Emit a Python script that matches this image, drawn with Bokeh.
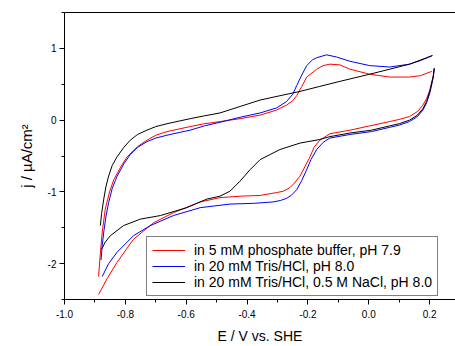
from bokeh.plotting import figure
from bokeh.models import (Range1d, LinearAxis, SingleIntervalTicker, FixedTicker,
                          NumeralTickFormatter, Legend, LegendItem)
from bokeh.embed import file_html
from bokeh.resources import INLINE

# ---- data ----
red_fwd_E = [-0.888, -0.882, -0.876, -0.866, -0.852, -0.838, -0.815, -0.794, -0.760, -0.729, -0.700, -0.663,
             -0.620, -0.587, -0.540, -0.489, -0.423, -0.357, -0.303, -0.270, -0.250, -0.237, -0.220, -0.204,
             -0.171, -0.150, -0.128, -0.095, -0.062, 0.003, 0.069, 0.134, 0.170, 0.207]
red_fwd_j = [-2.18, -1.85, -1.56, -1.24, -1.00, -0.83, -0.65, -0.51, -0.37, -0.28, -0.21, -0.16,
             -0.12, -0.09, -0.05, -0.02, 0.02, 0.07, 0.14, 0.21, 0.27, 0.34, 0.47, 0.60,
             0.71, 0.76, 0.78, 0.77, 0.71, 0.64, 0.60, 0.60, 0.62, 0.68]
red_rev_E = [0.215, 0.212, 0.205, 0.200, 0.190, 0.178, 0.160, 0.134, 0.100, 0.069, 0.003, -0.062,
             -0.128, -0.161, -0.180, -0.193, -0.210, -0.226, -0.245, -0.259, -0.280, -0.303, -0.357,
             -0.423, -0.489, -0.554, -0.642, -0.707, -0.773, -0.827, -0.860, -0.888]
red_rev_j = [0.72, 0.62, 0.50, 0.41, 0.30, 0.21, 0.12, 0.05, 0.01, -0.02, -0.08, -0.14,
             -0.19, -0.28, -0.38, -0.51, -0.65, -0.78, -0.88, -0.94, -0.99, -1.01, -1.05,
             -1.06, -1.08, -1.14, -1.29, -1.43, -1.66, -1.98, -2.21, -2.43]

blue_fwd_E = [-0.880, -0.876, -0.871, -0.864, -0.855, -0.843, -0.827, -0.805, -0.784, -0.760, -0.729, -0.700,
              -0.663, -0.620, -0.587, -0.540, -0.489, -0.423, -0.357, -0.303, -0.270, -0.250, -0.237, -0.220,
              -0.204, -0.185, -0.171, -0.139, -0.106, -0.062, 0.003, 0.069, 0.134, 0.170, 0.209]
blue_fwd_j = [-1.95, -1.75, -1.56, -1.35, -1.15, -0.95, -0.78, -0.61, -0.48, -0.38, -0.30, -0.25,
              -0.21, -0.17, -0.14, -0.08, -0.03, 0.04, 0.10, 0.17, 0.26, 0.36, 0.48, 0.63,
              0.76, 0.84, 0.87, 0.91, 0.88, 0.82, 0.76, 0.74, 0.78, 0.83, 0.90]
blue_rev_E = [0.215, 0.212, 0.205, 0.200, 0.190, 0.178, 0.160, 0.134, 0.100, 0.069, 0.009, -0.062,
              -0.128, -0.150, -0.171, -0.190, -0.204, -0.220, -0.237, -0.255, -0.270, -0.290, -0.314,
              -0.379, -0.456, -0.554, -0.642, -0.718, -0.773, -0.827, -0.855, -0.876]
blue_rev_j = [0.72, 0.60, 0.46, 0.37, 0.24, 0.14, 0.05, -0.02, -0.07, -0.10, -0.16, -0.20,
              -0.25, -0.31, -0.41, -0.55, -0.69, -0.84, -0.97, -1.05, -1.09, -1.12, -1.14,
              -1.16, -1.17, -1.22, -1.33, -1.47, -1.61, -1.84, -2.00, -2.18]

black_fwd_E = [-0.882, -0.878, -0.871, -0.864, -0.855, -0.843, -0.827, -0.805, -0.784, -0.760, -0.729, -0.700,
               -0.663, -0.620, -0.587, -0.540, -0.489, -0.423, -0.357, -0.292, -0.226, -0.161, -0.095,
               0.003, 0.069, 0.134, 0.209]
black_fwd_j = [-1.47, -1.30, -1.10, -0.93, -0.78, -0.63, -0.51, -0.38, -0.28, -0.20, -0.14, -0.09,
               -0.05, -0.01, 0.02, 0.06, 0.10, 0.19, 0.28, 0.34, 0.40, 0.47, 0.54,
               0.64, 0.71, 0.78, 0.90]
black_rev_E = [0.215, 0.212, 0.205, 0.200, 0.190, 0.178, 0.160, 0.134, 0.100, 0.069, 0.009, -0.062,
               -0.128, -0.161, -0.226, -0.292, -0.357, -0.390, -0.423, -0.456, -0.489, -0.532, -0.598,
               -0.685, -0.751, -0.806, -0.849, -0.866, -0.878]
black_rev_j = [0.72, 0.61, 0.48, 0.39, 0.26, 0.16, 0.07, 0.00, -0.05, -0.08, -0.14, -0.18,
               -0.23, -0.27, -0.32, -0.41, -0.55, -0.69, -0.85, -0.99, -1.06, -1.10, -1.22,
               -1.33, -1.38, -1.47, -1.61, -1.70, -1.80]

series_labels = ["in 5 mM phosphate buffer, pH 7.9",
                 "in 20 mM Tris/HCl, pH 8.0",
                 "in 20 mM Tris/HCl, 0.5 M NaCl, pH 8.0"]
series_colors = ["#ff0000", "#0000ff", "#000000"]

x_label = "E / V vs. SHE"
y_label = "j / \u00b5A/cm\u00b2"

FONT = "Liberation Sans"

p = figure(width=455, height=346, output_backend="svg", toolbar_location=None,
           x_range=Range1d(-1.0, 0.285), y_range=Range1d(-2.5, 1.5),
           min_border_left=64, min_border_right=0, min_border_top=12, min_border_bottom=45,
           x_axis_label=x_label, y_axis_label=y_label)
p.grid.visible = False
p.outline_line_color = None
p.background_fill_color = "white"
p.border_fill_color = "white"

p.xaxis.ticker = SingleIntervalTicker(interval=0.2, num_minor_ticks=2)
p.yaxis.ticker = SingleIntervalTicker(interval=1, num_minor_ticks=2)
p.xaxis.formatter = NumeralTickFormatter(format="0.0")
p.yaxis.formatter = NumeralTickFormatter(format="0")

for ax in (p.xaxis[0], p.yaxis[0]):
    ax.axis_line_color = "black"
    ax.axis_line_width = 1
    ax.major_tick_line_color = "black"
    ax.minor_tick_line_color = "black"
    ax.major_tick_out = 5
    ax.major_tick_in = 0
    ax.minor_tick_out = 3
    ax.minor_tick_in = 0
    ax.major_label_text_font = FONT
    ax.major_label_text_font_size = "10px"
    ax.major_label_text_color = "black"
    ax.axis_label_text_font = FONT
    ax.axis_label_text_font_size = "14px"
    ax.axis_label_text_font_style = "normal"
    ax.axis_label_text_color = "black"
p.xaxis.major_label_standoff = 5
p.xaxis.axis_label_standoff = 7
p.yaxis.major_label_standoff = 3
p.yaxis.axis_label_standoff = 10
p.yaxis.axis_label_text_font_size = "15px"

top = LinearAxis(ticker=FixedTicker(ticks=[]), axis_line_color="black", axis_line_width=1,
                 major_label_text_font_size="0px")
p.add_layout(top, "above")

fwd_E = [red_fwd_E, blue_fwd_E, black_fwd_E]
fwd_j = [red_fwd_j, blue_fwd_j, black_fwd_j]
rev_E = [red_rev_E, blue_rev_E, black_rev_E]
rev_j = [red_rev_j, blue_rev_j, black_rev_j]

items = []
for i in range(3):
    r = p.multi_line(xs=[fwd_E[i], rev_E[i]], ys=[fwd_j[i], rev_j[i]],
                     line_color=series_colors[i], line_width=1)
    items.append(LegendItem(label=series_labels[i], renderers=[r]))

legend = Legend(items=items, location=(82, 3), padding=5, spacing=0, margin=0,
                glyph_width=33, glyph_height=14, label_height=14, label_standoff=9,
                label_text_font=FONT, label_text_font_size="14px", label_text_color="black",
                border_line_color="black", border_line_width=1,
                background_fill_color="white", background_fill_alpha=1.0)
p.add_layout(legend, "center")

open("out.html", "w").write(file_html(p, INLINE))
